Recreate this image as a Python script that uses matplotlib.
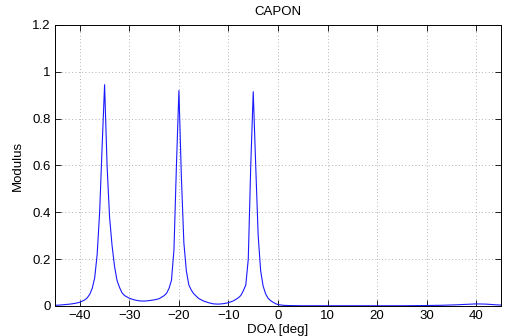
import matplotlib
matplotlib.use('Agg')
import matplotlib.pyplot as plt

plt.rcParams['font.family'] = ['Liberation Sans', 'DejaVu Sans']

## values
doa = [-45, -44, -43, -42, -41, -40, -39, -38.5, -38, -37.5, -37, -36.5, -36, -35.5, -35,
       -34.5, -34, -33.5, -33, -32.5, -32, -31.5, -31, -30, -29, -28, -27, -26, -25, -24,
       -23, -22.5, -22, -21.5, -21, -20.5, -20, -19.5, -19, -18.5, -18, -17.5, -17,
       -16, -15, -14, -13, -12, -11, -10, -9, -8, -7.5, -7, -6.5, -6, -5.5, -5,
       -4.5, -4, -3.5, -3, -2.5, -2, -1.5, -1, -0.5, 0, 1, 2, 5, 10, 15, 20, 25, 30, 33, 36,
       38, 40, 42, 44, 45]
modulus = [0.003, 0.004, 0.006, 0.008, 0.011, 0.016, 0.026, 0.035, 0.05, 0.075, 0.12, 0.22, 0.40, 0.68, 0.945,
           0.60, 0.38, 0.26, 0.17, 0.11, 0.08, 0.057, 0.045, 0.033, 0.026, 0.022, 0.021, 0.023, 0.026, 0.031,
           0.044, 0.054, 0.075, 0.11, 0.24, 0.60, 0.92, 0.55, 0.27, 0.15, 0.09, 0.068, 0.052,
           0.032, 0.021, 0.014, 0.009, 0.008, 0.01, 0.014, 0.022, 0.035, 0.045, 0.065, 0.09, 0.20, 0.60, 0.915,
           0.60, 0.30, 0.15, 0.085, 0.052, 0.033, 0.023, 0.016, 0.01, 0.006, 0.003, 0.002, 0.001, 0.001, 0.001, 0.001, 0.001, 0.002, 0.003, 0.005,
           0.007, 0.009, 0.008, 0.005, 0.004]

xticks = [-40, -30, -20, -10, 0, 10, 20, 30, 40]
yticks = [0, 0.2, 0.4, 0.6, 0.8, 1, 1.2]
ytick_labels = ['0', '0.2', '0.4', '0.6', '0.8', '1', '1.2']

fig = plt.figure(figsize=(5.05, 3.36), dpi=100)
ax = fig.add_axes([0.109, 0.0893, 0.883, 0.8363])

ax.plot(doa, modulus, color='#1a1aff', lw=0.8)

ax.set_xlim(-45, 45)
ax.set_ylim(0, 1.2)
ax.set_xticks(xticks)
ax.set_yticks(yticks)
ax.set_yticklabels(ytick_labels)
ax.tick_params(direction='in', top=True, right=True, length=4, width=0.6,
               labelsize=9.5, pad=3)
ax.grid(True, color='#9a9a9a', linestyle=(0, (1, 3)), linewidth=0.6)
for s in ax.spines.values():
    s.set_linewidth(0.7)

ax.set_title('CAPON', fontsize=9.5, pad=7)
ax.set_xlabel('DOA [deg]', fontsize=9.5, labelpad=1)
ax.set_ylabel('Modulus', fontsize=9.5, labelpad=6)

fig.savefig('out.png', dpi=100)
